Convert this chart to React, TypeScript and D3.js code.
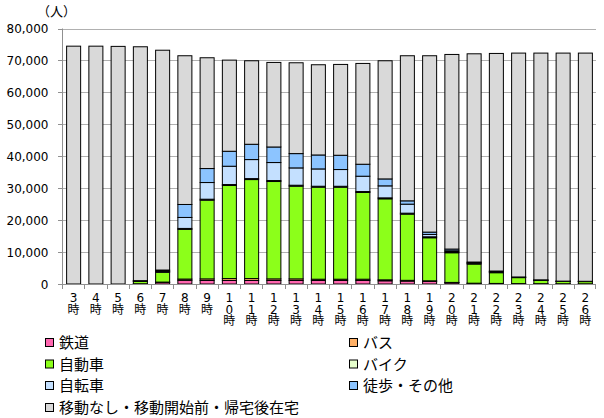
import React from "react";
import * as d3 from "d3";

// Hours of the day (24h+ notation for after-midnight)
const hours = ["3", "4", "5", "6", "7", "8", "9", "10", "11", "12", "13", "14", "15", "16", "17", "18", "19", "20", "21", "22", "23", "24", "25", "26"];

// People by travel mode, per hour
const rail = [0, 0, 0, 50, 500, 1150, 1100, 1100, 1100, 1100, 1100, 1100, 1100, 1100, 1000, 900, 800, 400, 200, 150, 100, 80, 60, 50];
const bus = [0, 0, 0, 20, 100, 400, 500, 600, 600, 500, 500, 400, 400, 400, 300, 250, 200, 100, 50, 30, 20, 10, 10, 10];
const car = [0, 0, 0, 770, 3050, 15550, 24650, 29140, 31000, 30490, 29025, 28810, 28800, 27150, 25370, 20725, 13480, 9290, 6000, 3360, 1880, 1010, 730, 690];
const motorbike = [0, 0, 0, 50, 300, 300, 300, 300, 300, 300, 300, 300, 300, 300, 300, 300, 300, 300, 200, 200, 100, 80, 50, 50];
const bicycle = [0, 0, 0, 50, 150, 3440, 5220, 5735, 5960, 5640, 5425, 5420, 5240, 4800, 3760, 2825, 740, 310, 250, 160, 50, 60, 30, 30];
const walkOther = [0, 0, 0, 100, 275, 4060, 4380, 4685, 4790, 4870, 4480, 4370, 4470, 3750, 2170, 1040, 730, 540, 175, 160, 50, 60, 20, 20];
const totals = [74470, 74470, 74400, 74280, 73200, 71470, 70840, 70100, 69900, 69375, 69270, 68650, 68750, 69060, 69900, 71470, 71470, 71875, 72080, 72190, 72300, 72300, 72300, 72300];

const yTicks = [0, 10000, 20000, 30000, 40000, 50000, 60000, 70000, 80000];

const seriesNames = ["鉄道", "バス", "自動車", "バイク", "自転車", "徒歩・その他", "移動なし・移動開始前・帰宅後在宅"];
const seriesColors = ["#FF66B0", "#FFB066", "#8CFF1A", "#E6FFCC", "#C4E0FF", "#8CC4FF", "#D9D9D9"];

const moving = [rail, bus, car, motorbike, bicycle, walkOther];
const stay = totals.map((t, i) => t - moving.reduce((s, arr) => s + arr[i], 0));
const seriesValues = [...moving, stay];

const rows = hours.map((h, i) => {
  const r: Record<string, number | string> = { hour: h };
  seriesNames.forEach((n, k) => (r[n] = seriesValues[k][i]));
  return r;
});

const W = 604;
const H = 418;
const left = 62;
const right = 596;
const top = 28.5;
const bottom = 284;

const font = "'DejaVu Sans', 'Noto Sans CJK JP', sans-serif";
const jpFont = "'Noto Sans CJK JP', sans-serif";

export default function App() {
  const x = d3.scaleBand<string>().domain(hours).range([left, right]).paddingInner(0.37).paddingOuter(0.185);
  const y = d3.scaleLinear().domain([0, 80000]).range([bottom, top]);
  const stack = d3.stack<Record<string, number | string>>().keys(seriesNames);
  const layers = stack(rows as any);
  const step = x.step();
  const fmt = d3.format(",");

  // legend: two columns, rows laid out top-down
  const legendPos = [
    [45.5, 342.5], [349.5, 342.5],
    [45.5, 364], [349.5, 364],
    [45.5, 385.5], [349.5, 385.5],
    [45.5, 407.5],
  ];

  return (
    <svg width={W} height={H} style={{ position: "absolute", left: 0, top: 0, background: "#fff" }}>
      {/* grid */}
      {yTicks.map((t) => (
        <line key={"g" + t} x1={left} x2={right} y1={Math.round(y(t)) + 0.5} y2={Math.round(y(t)) + 0.5} stroke="#b0b0b0" strokeWidth={1} />
      ))}
      {/* y axis */}
      <line x1={left + 0.5} x2={left + 0.5} y1={top} y2={bottom + 4} stroke="#909090" />
      {yTicks.map((t) => (
        <g key={"t" + t}>
          <line x1={left - 4} x2={left} y1={Math.round(y(t)) + 0.5} y2={Math.round(y(t)) + 0.5} stroke="#909090" />
          <text x={48.5} y={y(t) + 4.5} textAnchor="end" fontFamily={font} fontSize={12} fill="#000">
            {fmt(t)}
          </text>
        </g>
      ))}
      <text x={37} y={16} fontFamily={jpFont} fontSize={13} fill="#000">（人）</text>
      {/* bars */}
      {layers.map((layer, k) => (
        <g key={"l" + k}>
          {layer.map((d, i) => {
            const y0 = y(d[0]);
            const y1 = y(d[1]);
            if (d[1] - d[0] <= 0) return null;
            return (
              <rect
                key={i}
                x={(x(hours[i]) as number) + 0.5}
                y={y1}
                width={x.bandwidth()}
                height={Math.max(0, y0 - y1)}
                fill={seriesColors[k]}
                stroke="#000"
                strokeWidth={1}
              />
            );
          })}
        </g>
      ))}
      {/* x axis */}
      <line x1={left} x2={right} y1={bottom + 0.5} y2={bottom + 0.5} stroke="#909090" />
      {hours.map((h, i) => (
        <line key={"xt" + i} x1={Math.round(left + i * step) + 0.5} x2={Math.round(left + i * step) + 0.5} y1={bottom} y2={bottom + 5} stroke="#909090" />
      ))}
      <line x1={right - 0.5} x2={right - 0.5} y1={bottom} y2={bottom + 5} stroke="#909090" />
      {/* category labels, written vertically one character per line */}
      {hours.map((h, i) => {
        const cx = (x(h) as number) + x.bandwidth() / 2 + 0.5;
        const chars = [...h.split(""), "時"];
        return (
          <text key={"xl" + i} textAnchor="middle" fontFamily={font} fontSize={12} fill="#000">
            {chars.map((c, j) => (
              <tspan key={j} x={cx} y={302 + j * 11.7}>
                {c}
              </tspan>
            ))}
          </text>
        );
      })}
      {/* legend */}
      {seriesNames.map((n, k) => {
        const [lx, ly] = legendPos[k];
        return (
          <g key={"lg" + k}>
            <rect x={lx} y={ly - 4} width={8} height={8} fill={seriesColors[k]} stroke="#000" strokeWidth={1} />
            <text x={lx + 13.5} y={ly + 5.5} fontFamily={jpFont} fontSize={15} fill="#000">
              {n}
            </text>
          </g>
        );
      })}
    </svg>
  );
}
